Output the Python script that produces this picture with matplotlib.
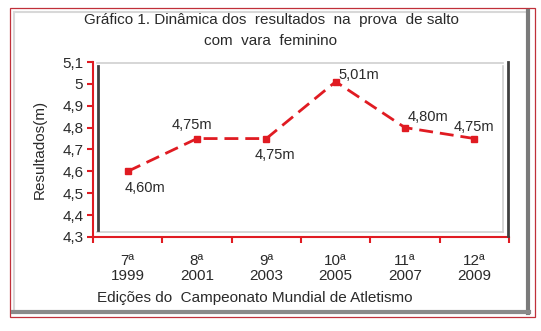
import matplotlib.pyplot as plt
from matplotlib.lines import Line2D
from matplotlib.patches import Rectangle

# Data
editions = ['7ª\n1999', '8ª\n2001', '9ª\n2003', '10ª\n2005', '11ª\n2007', '12ª\n2009']
results = [4.60, 4.75, 4.75, 5.01, 4.80, 4.75]
labels = ['4,60m', '4,75m', '4,75m', '5,01m', '4,80m', '4,75m']
yticks = [4.3, 4.4, 4.5, 4.6, 4.7, 4.8, 4.9, 5.0, 5.1]

RED = '#e01b22'
TXT = '#2a2a2a'
W, H = 541, 331

plt.rcParams['font.family'] = ['Liberation Sans', 'DejaVu Sans']
plt.rcParams['text.color'] = TXT
plt.rcParams['xtick.labelcolor'] = TXT
plt.rcParams['ytick.labelcolor'] = TXT
plt.rcParams['axes.labelcolor'] = TXT

fig = plt.figure(figsize=(W / 100, H / 100), dpi=100)
ax = fig.add_axes([93 / W, 1 - 237 / H, (509 - 93) / W, (237 - 62) / H])


def fline(x0, y0, x1, y1, color, lw):
    # line in figure pixel coords (y from top)
    fig.add_artist(Line2D([x0 / W, x1 / W], [1 - y0 / H, 1 - y1 / H],
                          transform=fig.transFigure, color=color, lw=lw))


# Outer frame: thin red border and gray bevel
fig.add_artist(Rectangle((10 / W, 1 - 317 / H), 525 / W, 309 / H, transform=fig.transFigure,
                         fill=False, edgecolor='#c0303a', lw=0.9))
fline(14, 12, 527, 12, '#d8d8d8', 1.5)
fline(14, 12, 14, 311, '#d8d8d8', 1.5)
fline(528, 11, 528, 313, '#7a7a7a', 3)
fline(13, 312, 529, 312, '#8a8a8a', 3)

# Inner bevel in plot area
fline(97, 63, 503, 63, '#d0d0d0', 1.2)
fline(97, 232, 503, 232, '#d0d0d0', 1.2)
fline(503, 66, 503, 232, '#d0d0d0', 1.2)
fline(98, 66, 98, 230, '#404040', 2)
fline(508, 62, 508, 236, '#404040', 2)

x = list(range(len(editions)))
ax.plot(x, results, color=RED, lw=2, dashes=(5, 2.5), marker='s', markersize=4.5,
        markerfacecolor=RED, markeredgecolor=RED)

offsets = [(-2, -12), (-4, 10), (6, -12), (2, 5), (2, 8), (0, 8)]
has = ['left', 'center', 'center', 'left', 'left', 'center']
for xi, yi, lab, off, ha in zip(x, results, labels, offsets, has):
    ax.annotate(lab, (xi, yi), xytext=off, textcoords='offset points',
                ha=ha, va='center', fontsize=10.5)

ax.set_xlim(-0.5, len(editions) - 0.5)
ax.set_ylim(4.3, 5.1)
ax.set_yticks(yticks)
ax.set_yticklabels([('%g' % v).replace('.', ',') for v in yticks], fontsize=11)

ax.set_xticks([i - 0.5 for i in range(len(editions) + 1)])
ax.set_xticklabels([])
ax.set_xticks(x, minor=True)
ax.set_xticklabels(editions, minor=True, fontsize=11, linespacing=1.15)
ax.tick_params(axis='x', which='minor', length=0, pad=12)
ax.tick_params(axis='both', which='major', color=RED, width=1.5, length=4, direction='out')
ax.tick_params(axis='y', pad=3)

for s in ['top', 'right']:
    ax.spines[s].set_visible(False)
for s in ['left', 'bottom']:
    ax.spines[s].set_color(RED)
    ax.spines[s].set_linewidth(1.5)
ax.patch.set_alpha(0)

ax.set_ylabel('Resultados(m)', fontsize=11)
ax.yaxis.set_label_coords(-0.11, 0.5)
ax.set_xlabel('Edições do  Campeonato Mundial de Atletismo', fontsize=11)
ax.xaxis.set_label_coords((255 - 93) / 416, -(291 - 237) / 175)

fig.text(271 / W, 1 - 20 / H, 'Gráfico 1. Dinâmica dos  resultados  na  prova  de salto',
         ha='center', va='center', fontsize=11)
fig.text(271 / W, 1 - 41 / H, 'com  vara  feminino', ha='center', va='center', fontsize=11)

fig.savefig('out.png', dpi=100)
